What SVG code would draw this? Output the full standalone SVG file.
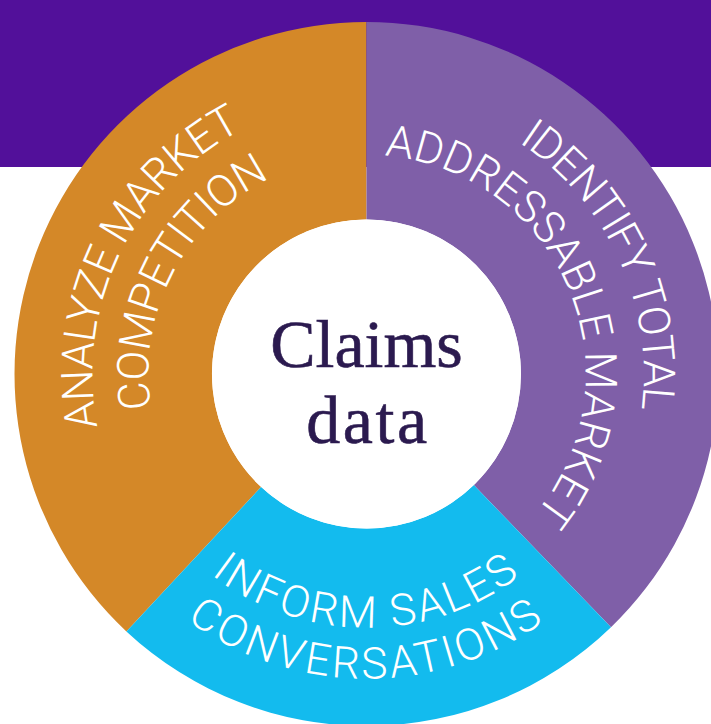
<svg xmlns="http://www.w3.org/2000/svg" xmlns:xlink="http://www.w3.org/1999/xlink" width="711" height="724" viewBox="0 0 711 724">
  <style>
    .ring-label { font-family: Roboto, "Liberation Sans", sans-serif; font-size: 44px; font-weight: 300; fill: #ffffff; }
    .hub-label { font-family: "Liberation Serif", serif; font-size: 68px; fill: #2b1a4f; stroke: #2b1a4f; stroke-width: 0.6; text-anchor: middle; }
  </style>
  <defs>
    <!-- baseline arcs for the ring labels, centred on (366.5, 374) -->
    <path id="arc-analyze" d="M225.8,609.1 A274,274 0 0 1 464.2,118.0"/>
    <path id="arc-competition" d="M250.3,558.5 A218,218 0 0 1 448.9,172.2"/>
    <path id="arc-identify" d="M272.4,113.5 A277,277 0 0 1 504.4,614.3"/>
    <path id="arc-addressable" d="M299.4,165.5 A219,219 0 0 1 468.8,567.6"/>
    <path id="arc-inform" d="M113.5,396.1 A254,254 0 0 0 619.5,396.1"/>
    <path id="arc-conversations" d="M62.7,400.6 A305,305 0 0 0 670.3,400.6"/>
  </defs>

  <!-- background band -->
  <rect x="0" y="0" width="711" height="167" fill="#52109a"/>

  <g id="segment-analyze">
    <path d="M366.5,22 A352,352 0 0 0 126.4,631.4 L261.1,487.0 A154.5,154.5 0 0 1 366.5,219.5 Z" fill="#d48828"/>
    <text class="ring-label" letter-spacing="-0.9"><textPath xlink:href="#arc-analyze" href="#arc-analyze" startOffset="50%" text-anchor="middle">ANALYZE MARKET</textPath></text>
    <text class="ring-label" letter-spacing="-0.8"><textPath xlink:href="#arc-competition" href="#arc-competition" startOffset="50%" text-anchor="middle">COMPETITION</textPath></text>
  </g>

  <g id="segment-identify">
    <path d="M366.5,22 A352,352 0 0 1 611.0,627.2 L473.8,485.1 A154.5,154.5 0 0 0 366.5,219.5 Z" fill="#7f5fa8"/>
    <text class="ring-label" letter-spacing="-1.2"><textPath xlink:href="#arc-identify" href="#arc-identify" startOffset="50%" text-anchor="middle">IDENTIFY TOTAL</textPath></text>
    <text class="ring-label" letter-spacing="0"><textPath xlink:href="#arc-addressable" href="#arc-addressable" startOffset="50%" text-anchor="middle">ADDRESSABLE MARKET</textPath></text>
  </g>

  <g id="segment-inform">
    <path d="M611.0,627.2 A352,352 0 0 1 126.4,631.4 L261.1,487.0 A154.5,154.5 0 0 0 473.8,485.1 Z" fill="#13bbee"/>
    <text class="ring-label" letter-spacing="2.7"><textPath xlink:href="#arc-inform" href="#arc-inform" startOffset="50%" text-anchor="middle">INFORM SALES</textPath></text>
    <text class="ring-label" letter-spacing="3"><textPath xlink:href="#arc-conversations" href="#arc-conversations" startOffset="50%" text-anchor="middle">CONVERSATIONS</textPath></text>
  </g>

  <g id="hub">
    <circle cx="366.5" cy="374" r="154.5" fill="#ffffff"/>
    <text class="hub-label" x="366.5" y="366.7">Claims</text>
    <text class="hub-label" x="368" y="443.3" letter-spacing="2.5">data</text>
  </g>
</svg>
